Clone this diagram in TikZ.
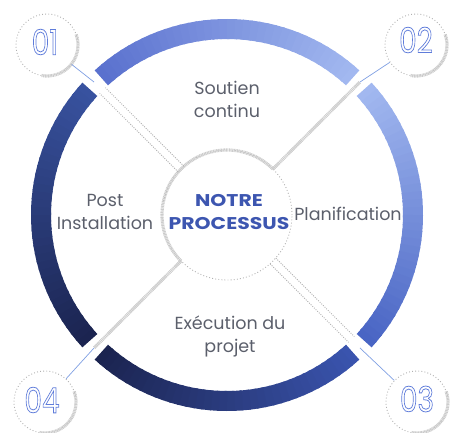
\documentclass[tikz,border=0pt]{standalone}
\usepackage{fontspec}
\setmainfont{Poppins}
\usetikzlibrary{calc}

\definecolor{txtgray}{HTML}{5B5F6B}
\definecolor{titleblue}{HTML}{3D56B0}
\definecolor{lineblue}{HTML}{7F9FE2}
\definecolor{digitblue}{HTML}{5F7CDA}
\definecolor{dotgray}{HTML}{B0B0B0}
\definecolor{glowgray}{HTML}{CCCCCC}
% ring colours
\definecolor{rA}{HTML}{5A71CE}
\definecolor{rB}{HTML}{A2B8F0}
\definecolor{rC}{HTML}{4965C4}
\definecolor{rD}{HTML}{3A54AE}
\definecolor{rE}{HTML}{1B2450}
\definecolor{rF}{HTML}{38529F}

\tikzset{
  ringseg/.style={line width=20pt},
  innerdots/.style={draw=dotgray, line width=0.9pt, dash pattern=on 0.9pt off 2.2pt},
  glow/.style={draw=glowgray, line width=3.2pt, dash pattern=on 1pt off 0.6pt},
  bandline/.style={draw=dotgray, line width=0.9pt, dash pattern=on 1pt off 1.3pt},
  leader/.style={draw=lineblue, line width=0.7pt},
  numring/.style={circle, minimum size=62pt, inner sep=0pt, innerdots},
  lbl/.style={text=txtgray, font=\fontsize{17.5}{23}\selectfont, align=center},
  title/.style={text=titleblue, font=\fontsize{17}{23}\selectfont\bfseries, align=center, xscale=1.2},
  digits/.style={text=digitblue, font=\fontsize{35}{35}\selectfont, xscale=0.8, inner sep=0pt}
}

% an arc of the ring whose colour runs from #3 to #4
\newcommand\gradarc[4]{%
  \foreach \k in {0,...,35}{%
    \pgfmathsetmacro\ta{#1+(#2-#1)*\k/36}%
    \pgfmathsetmacro\tb{#1+(#2-#1)*min(\k+1.3,36)/36}%
    \pgfmathsetmacro\pc{100*(1-\k/35)}%
    \draw[ringseg, draw=#3!\pc!#4] ([shift={(\ta:186)}]C) arc[start angle=\ta, end angle=\tb, radius=186];
  }}

% hollow (stroked only) digits
\newcommand\outlined[1]{\special{pdf:literal direct 1 Tr 0.8 w}#1\special{pdf:literal direct 0 Tr}}

\begin{document}
\begin{tikzpicture}[x=1pt,y=1pt]
\useasboundingbox (0,0) rectangle (452,432);
\coordinate (C) at (227,217);

% inner circle: dotted outline with a brighter half
\node[circle, minimum size=130pt, inner sep=0pt, innerdots] (core) at (C) {};
\draw[glow] ([shift={(45:65)}]C) arc[start angle=45, end angle=225, radius=65];

% points where the spokes meet the inner circle and the ring
\foreach \a/\n in {135/1, 45/2, -45/3, -135/4}{
  \coordinate (in\n) at ($(C)+(\a:65)$);
  \coordinate (gap\n) at ($(C)+(\a:188)$);
  \coordinate (ring\n) at ($(C)+(\a:176)$);
}

% spokes: hollow bands and solid bars
\draw[bandline] ($(in1)+(45:4)$) -- ($(ring1)+(45:4)$);
\draw[bandline] ($(in1)+(-135:4)$) -- ($(ring1)+(-135:4)$);
\draw[bandline] ($(in3)+(45:4)$) -- ($(ring3)+(45:4)$);
\draw[bandline] ($(in3)+(-135:4)$) -- ($(ring3)+(-135:4)$);
\draw[glow] (in2) -- (gap2);
\draw[glow] (in4) -- (gap4);

% the four ring segments
\gradarc{132.5}{47.5}{rA}{rB}
\gradarc{42.5}{-42.5}{rB}{rC}
\gradarc{-47.5}{-132.5}{rD}{rE}
\gradarc{-137.5}{-222.5}{rE}{rF}

% step number circles
\node[numring] (n1) at (47,387) {};
\node[numring] (n2) at (416,387) {};
\node[numring] (n3) at (417,30) {};
\node[numring] (n4) at (45,30) {};
\foreach \n in {1,2,3,4}{
  \draw[glow] ([shift={(-100:31)}]n\n.center) arc[start angle=-100, end angle=20, radius=31];
}
\node[digits] (d1) at (45,390) {\outlined{01}};
\node[digits] (d2) at (416,392) {\outlined{02}};
\node[digits] (d3) at (417,33) {\outlined{03}};
\node[digits] (d4) at (42,32) {\outlined{04}};

% leaders from the ring gaps to the numbers
\draw[leader] (gap1) -- (n1);
\draw[leader] (gap2) -- (n2);
\draw[leader] (gap3) -- (n3);
\draw[leader] (gap4) -- (n4);

% labels
\node[title] (core-title) at (229,219.5) {NOTRE\\PROCESSUS};
\node[lbl] (support) at (227,333) {Soutien\\continu};
\node[lbl] (post) at (105,220) {Post\\Installation};
\node[lbl] (plan) at (348,218) {Planification};
\node[lbl] (exec) at (230,96) {Exécution du\\projet};
\end{tikzpicture}
\end{document}
